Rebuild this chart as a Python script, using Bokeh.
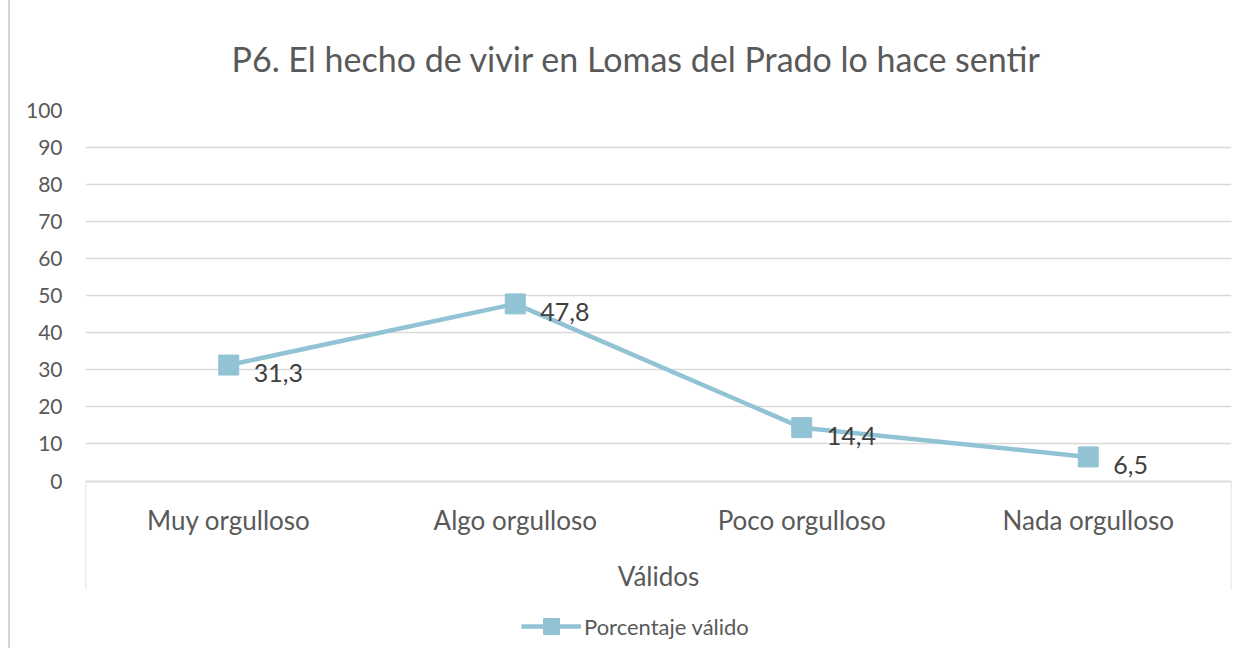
from bokeh.plotting import figure
from bokeh.models import Range1d, FixedTicker, Legend, LegendItem, Title
from bokeh.embed import file_html
from bokeh.resources import INLINE
from bokeh.core.properties import value

# ---- data ----
categories = ["Muy orgulloso", "Algo orgulloso", "Poco orgulloso", "Nada orgulloso"]
values = [31.3, 47.8, 14.4, 6.5]
value_labels = ["31,3", "47,8", "14,4", "6,5"]
y_ticks = [0, 10, 20, 30, 40, 50, 60, 70, 80, 90, 100]
title_text = "P6. El hecho de vivir en Lomas del Prado lo hace sentir"
group_label = "Válidos"
series_name = "Porcentaje válido"

# ---- styles ----
FONT = "Lato"
LINE_COLOR = "#92C3D5"
TEXT_COLOR = "#595959"
GRID_COLOR = "#D9D9D9"

p = figure(
    width=1230, height=648,
    x_range=categories,
    y_range=Range1d(-45.2, 100),
    output_backend="svg", toolbar_location=None,
    min_border_left=75, min_border_right=9,
    min_border_top=110, min_border_bottom=0,
)
p.outline_line_color = None
p.background_fill_color = "white"
p.styles = {"margin-left": "8px", "border-left": "2px solid #D4D4D4"}

# title
p.title = Title(text=title_text, align="left", offset=146,
                text_font=FONT, text_font_size="34px",
                text_font_style="normal", text_color=TEXT_COLOR, standoff=64)

# y axis
yax = p.yaxis[0]
yax.ticker = FixedTicker(ticks=y_ticks)
yax.axis_line_color = None
yax.major_tick_line_color = None
yax.minor_tick_line_color = None
yax.major_label_standoff = 17
yax.major_label_text_font = FONT
yax.major_label_text_font_size = "21px"
yax.major_label_text_color = TEXT_COLOR

p.ygrid.grid_line_color = GRID_COLOR
p.ygrid.grid_line_width = 1.5
p.xgrid.grid_line_color = None

# x axis drawn at y = 0
xax = p.xaxis[0]
xax.fixed_location = 0
xax.axis_line_color = GRID_COLOR
xax.axis_line_width = 1.5
xax.major_tick_line_color = None
xax.minor_tick_line_color = None
xax.major_label_standoff = 17
xax.major_label_text_font = FONT
xax.major_label_text_font_size = "26px"
xax.major_label_text_color = TEXT_COLOR
xax.axis_label = group_label
xax.axis_label_text_font = FONT
xax.axis_label_text_font_size = "26px"
xax.axis_label_text_font_style = "normal"
xax.axis_label_text_color = TEXT_COLOR
xax.axis_label_standoff = 20

# category group box (vertical edges)
p.segment(x0=[(categories[0], -0.5), (categories[-1], 0.5)], y0=[0, 0],
          x1=[(categories[0], -0.5), (categories[-1], 0.5)], y1=[-29.2, -29.2],
          line_color=GRID_COLOR, line_width=1.5)

# series
line_r = p.line(x=categories, y=values, line_color=LINE_COLOR, line_width=4.5)
mark_r = p.scatter(x=categories, y=values, marker="square", size=20,
                   fill_color=LINE_COLOR, line_color=LINE_COLOR)

p.text(x=categories, y=values, text=value_labels, x_offset=25, y_offset=8,
       text_align="left", text_baseline="middle",
       text_font=value(FONT), text_font_size="25px", text_color="#404040")

legend = Legend(items=[LegendItem(label=series_name, renderers=[line_r, mark_r])],
                location=(436, 2), orientation="horizontal",
                glyph_width=60, glyph_height=40, label_standoff=3,
                label_text_font=FONT, label_text_font_size="22px",
                label_text_color=TEXT_COLOR, padding=0, margin=0,
                border_line_color=None, background_fill_alpha=0)
p.add_layout(legend)

open("out.html", "w").write(file_html(p, INLINE))
